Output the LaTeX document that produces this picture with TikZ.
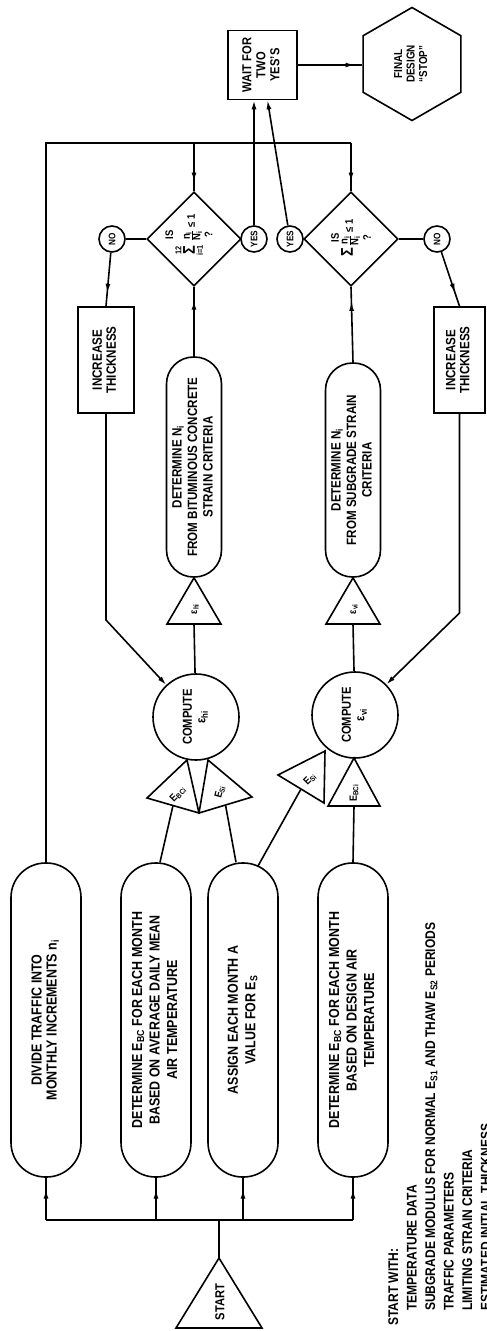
\documentclass[tikz,border=0pt]{standalone}
\usepackage{fontspec}
\usepackage{graphicx}
\newfontfamily\cond{Liberation Sans Bold}[FakeStretch=0.86]
\usetikzlibrary{arrows.meta,decorations.markings,calc,shapes.geometric}
\newcommand\vt[1]{\rotatebox{90}{\begin{tabular}{@{}c@{}}#1\end{tabular}}}
\tikzset{
  every node/.style={inner sep=0pt},
  ln/.style={line width=1.6pt},
  shp/.style={draw, line width=1.6pt},
  tip/.style={-{Latex[length=9pt,width=5pt]}},
  marr/.style={postaction={decorate,decoration={markings,mark=at position #1 with {\arrow{Latex[length=9pt,width=5pt]}}}}},
  bigbox/.style={shp, rectangle, rounded corners=34.5pt, minimum width=70pt, minimum height=314pt, font={\cond\fontsize{14.5}{17.5}\selectfont}},
  nbox/.style={shp, rectangle, rounded corners=27pt, minimum width=55pt, font={\cond\fontsize{13.5}{15.5}\selectfont}},
  incbox/.style={shp, rectangle, minimum height=106pt, font={\cond\fontsize{13.5}{14}\selectfont}},
  yn/.style={shp, circle, minimum size=26pt, font={\cond\fontsize{9.5}{9.5}\selectfont}},
  dia/.style={shp, diamond, minimum width=94pt, minimum height=94pt},
  comp/.style={shp, circle, minimum size=86pt, font={\cond\fontsize{13}{13.5}\selectfont}},
  tri/.style={font={\cond\fontsize{10.5}{10.5}\selectfont}},
  dtext/.style={rotate=90, align=center, font={\cond\fontsize{11}{12}\selectfont}},
}
\begin{document}
\begin{tikzpicture}[x=1pt,y=-1pt]
\useasboundingbox (0,0) rectangle (487,1331);
\clip (0,0) rectangle (487,1331);

% ---------- start ----------
\coordinate (sa) at (219,1258);
\draw[shp] (sa) -- (262,1328) -- (176,1328) -- cycle;
\node[rotate=90, font={\cond\fontsize{13}{13}\selectfont}] (startt) at (220,1302) {START};

% ---------- first column boxes ----------
\node[bigbox, font={\cond\fontsize{14.5}{15}\selectfont}] (b1) at (46,1020) {\vt{DIVIDE TRAFFIC INTO\\MONTHLY INCREMENTS n\textsubscript{i}}};
\node[bigbox] (b2) at (156,1020) {\vt{DETERMINE E\textsubscript{BC} FOR EACH MONTH\\BASED ON AVERAGE DAILY MEAN\\AIR TEMPERATURE}};
\node[bigbox] (b3) at (243,1020) {\vt{ASSIGN EACH MONTH A\\VALUE FOR E\textsubscript{S}}};
\node[bigbox] (b4) at (353,1020) {\vt{DETERMINE E\textsubscript{BC} FOR EACH MONTH\\BASED ON DESIGN AIR\\TEMPERATURE}};

\coordinate (bus) at (219,1220);
\draw[ln] (sa) -- (bus);
\draw[ln] (b1.south |- bus) -- (b4.south |- bus);
\foreach \b in {b1,b2,b3,b4} \draw[ln, marr=0.72] (\b.south |- bus) -- (\b.south);

% ---------- compute circles ----------
\node[comp] (c1) at (196,717) {\vt{COMPUTE\\ε\textsubscript{hi}}};
\node[comp] (c2) at (355,715) {\vt{COMPUTE\\ε\textsubscript{vi}}};

% triangles at circle 1
\draw[shp] (147,798) -- (187,760) -- (199,813) -- cycle;
\draw[shp] (199,813) -- (208,760) -- (252,797) -- cycle;
\coordinate (t1b) at (173,805.5);
\coordinate (t2b) at (225.5,805);
\node[tri, rotate=45] (t1t) at (178,794) {E\textsubscript{BCi}};
\node[tri, rotate=75] (t2t) at (220,792) {E\textsubscript{Si}};

% triangles at circle 2
\draw[shp] (278,775) -- (325,751) -- (324,803) -- cycle;
\draw[shp] (328,806) -- (354,758) -- (380,806) -- cycle;
\coordinate (t3b) at (301,789);
\coordinate (t4b) at (354,806);
\node[tri, rotate=45] (t3t) at (310,779) {E\textsubscript{Si}};
\node[tri, rotate=90] (t4t) at (354,793) {E\textsubscript{BCi}};

\coordinate (b2t) at ($(b2.north)+(4,0)$);
\coordinate (b3t) at ($(b3.north)+(-7,0)$);
\coordinate (b3r) at (258,866);
\draw[ln] (b2t) -- (t1b);
\draw[ln] (b3t) -- (t2b);
\draw[ln] (b3r) -- (t3b);
\draw[ln] (b4.north) -- (t4b);

% ---------- epsilon triangles and N boxes ----------
\node[nbox, minimum height=220pt] (n1) at (194,467) {\vt{DETERMINE N\textsubscript{i}\\FROM BITUMINOUS CONCRETE\\STRAIN CRITERIA}};
\node[nbox, minimum height=214pt] (n2) at (353,470) {\vt{DETERMINE N\textsubscript{i}\\FROM SUBGRADE STRAIN\\CRITERIA}};

\draw[shp] (n1.south) -- (221,624) -- (167,624) -- cycle;
\draw[shp] (n2.south) -- (380,624) -- (326,624) -- cycle;
\coordinate (e1b) at (194,624);
\coordinate (e2b) at (353,624);
\node[tri, rotate=90] (e1t) at (195,609) {ε\textsubscript{hi}};
\node[tri, rotate=90] (e2t) at (354,609) {ε\textsubscript{vi}};
\draw[ln] (e1b) -- (c1);
\draw[ln] (e2b) -- (c2);

% ---------- diamonds ----------
\node[dia] (d1) at (194,239) {};
\node[dia] (d2) at (351,239) {};
\node[dtext] (d1t) at (189,235) {IS\\[0pt]$\mathop{\mbox{\fontsize{17}{17}\selectfont Σ}}\limits_{\mbox{\fontsize{8.5}{8.5}\selectfont i=1}}^{\mbox{\fontsize{8.5}{8.5}\selectfont 12}}\,\frac{\mbox{n\textsubscript{i}}}{\mbox{N\textsubscript{i}}}\mbox{ ≤ 1}$\\[0pt]?};
\node[dtext] (d2t) at (351,238) {IS\\[2pt]$\mbox{\fontsize{17}{17}\selectfont Σ}\,\frac{\mbox{n\textsubscript{i}}}{\mbox{N\textsubscript{i}}}\mbox{ ≤ 1}$\\[2pt]?};

\draw[ln, marr=0.8] (n1.north) -- (d1.south);
\draw[ln, marr=0.8] (n2.north) -- (d2.south);

% ---------- yes / no ----------
\node[yn] (no1) at (112,239) {\rotatebox{90}{NO}};
\node[yn] (y1) at (254,239) {\rotatebox{90}{YES}};
\node[yn] (y2) at (290,239) {\rotatebox{90}{YES}};
\node[yn] (no2) at (437,239) {\rotatebox{90}{NO}};
\draw[ln] (d1.west) -- (no1);
\draw[ln] (d2.east) -- (no2);

% ---------- increase thickness ----------
\node[incbox, minimum width=56pt] (inc1) at (106,360) {\vt{INCREASE\\THICKNESS}};
\node[incbox, minimum width=51pt] (inc2) at (459.5,360) {\vt{INCREASE\\THICKNESS}};
\draw[ln, marr=0.75] (no1) -- (inc1.north);
\draw[ln, marr=0.75] (no2) -- (inc2.north);
\coordinate (k1) at (106,620);
\coordinate (k2) at (459.5,613);
\draw[ln, tip] (inc1.south) -- (k1) -- (c1);
\draw[ln, tip] (inc2.south) -- (k2) -- (c2);

% ---------- top loop ----------
\coordinate (tl) at (46,143);
\draw[ln] (b1.north) -- (b1.north |- tl) -- (d2.north |- tl);
\draw[ln, marr=0.8] (d1.north |- tl) -- (d1.north);
\draw[ln, marr=0.8] (d2.north |- tl) -- (d2.north);

% ---------- wait and final ----------
\node[shp, minimum width=69pt, minimum height=69pt, font={\cond\fontsize{13}{14}\selectfont}] (wait) at (262.5,65) {\vt{WAIT FOR\\TWO\\YES’S}};
\coordinate (w2) at ($(wait.south)+(5,0)$);
\draw[ln, tip] (y1) -- (y1 |- wait.south);
\draw[ln, tip] (y2) -- (w2);
\node[shp, regular polygon, regular polygon sides=6, shape border rotate=30, minimum size=113pt, font={\cond\fontsize{11.5}{12.5}\selectfont}] (fin) at (412,64) {\vt{FINAL\\DESIGN\\“STOP”}};
\draw[ln, marr=0.88] (wait.east) -- (fin.west |- wait.east);

% ---------- start-with note ----------
\node[rotate=90, anchor=north west, font={\cond\fontsize{14}{18.5}\selectfont}] (note) at (385,1326) {\begin{tabular}{@{}l@{}}START WITH:\\
\hspace{15pt}TEMPERATURE DATA\\
\hspace{15pt}SUBGRADE MODULUS FOR NORMAL E\textsubscript{S1} AND THAW E\textsubscript{S2} PERIODS\\
\hspace{15pt}TRAFFIC PARAMETERS\\
\hspace{15pt}LIMITING STRAIN CRITERIA\\
\hspace{15pt}ESTIMATED INITIAL THICKNESS\end{tabular}};
\end{tikzpicture}
\end{document}
